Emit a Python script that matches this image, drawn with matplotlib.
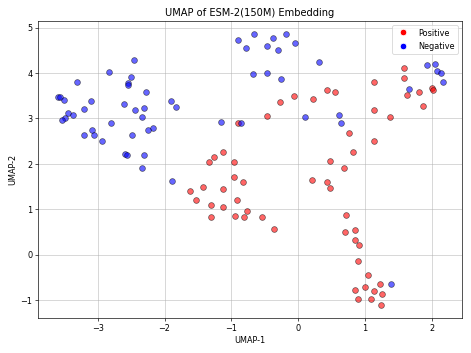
import numpy as np
import matplotlib
matplotlib.use("Agg")
import matplotlib.pyplot as plt
from matplotlib.lines import Line2D

# UMAP coordinates
pos_x = [-0.895, 0.437, -0.066, 0.223, -0.27, -0.46, -1.12, -1.26, -1.34, -0.955,
         0.477, 1.575, 1.575, 1.13, 0.548, 1.81, 2.00, 2.02, 1.62, 1.865,
         1.13, 1.365, 0.762, 1.126, 0.826, 0.683, -0.955, -0.825, -1.43, -1.62,
         -1.124, -1.53, -0.915, -1.304, -1.12, -0.77, -1.31, -0.945, -0.815, -0.545,
         -0.37, 0.213, 0.43, 0.478, 0.72, 0.70, 0.85, 0.85, 0.91, 0.90,
         1.05, 1.226, 1.00, 1.126, 1.26, 0.856, 0.90, 1.09, 1.236]
pos_y = [2.90, 3.62, 3.49, 3.44, 3.36, 3.06, 2.26, 2.14, 2.04, 2.03,
         2.06, 4.12, 3.89, 3.81, 3.59, 3.58, 3.68, 3.62, 3.51, 3.27,
         3.19, 3.03, 2.67, 2.51, 2.26, 1.90, 1.72, 1.61, 1.48, 1.40,
         1.45, 1.20, 1.20, 1.09, 1.04, 0.96, 0.83, 0.84, 0.82, 0.82,
         0.57, 1.65, 1.59, 1.47, 0.88, 0.49, 0.53, 0.32, 0.21, -0.15,
         -0.45, -0.65, -0.72, -0.81, -0.86, -0.78, -0.98, -0.99, -1.11]

neg_x = [-2.46, -2.83, -2.50, -2.55, -2.54, -3.31, -2.27, -3.60, -3.57, -3.51,
         -3.10, -2.60, -2.44, -2.31, -3.20, -1.90, -1.83, -3.45, -3.37, -3.49,
         -3.53, -2.34, -2.80, -3.09, -2.17, -2.24, -3.21, -3.06, -2.48, -2.94,
         -2.59, -2.56, -2.30, -2.34, -1.89,
         -0.895, -0.665, -0.376, -0.186, -0.046, -0.78, -0.466, -0.30, 0.317, -0.675,
         -0.466, -0.26, -1.154, -0.85, 0.099,
         1.92, 2.05, 2.07, 2.13, 2.17, 1.66, 0.612, 0.638, 1.39]
neg_y = [4.29, 4.03, 3.91, 3.78, 3.73, 3.80, 3.58, 3.47, 3.47, 3.41,
         3.39, 3.32, 3.19, 3.22, 3.21, 3.38, 3.26, 3.11, 3.08, 3.00,
         2.96, 3.03, 2.89, 2.74, 2.79, 2.75, 2.63, 2.63, 2.63, 2.51,
         2.22, 2.19, 2.20, 1.90, 1.62,
         4.74, 4.86, 4.77, 4.86, 4.66, 4.56, 4.59, 4.50, 4.24, 3.97,
         4.01, 3.88, 2.92, 2.90, 3.04,
         4.17, 4.20, 4.05, 4.00, 3.80, 3.64, 3.08, 2.90, -0.64]

fig, ax = plt.subplots(figsize=(8, 6), dpi=58.875)
fig.subplots_adjust(left=0.081, right=0.981, top=0.940, bottom=0.099)

ax.scatter(pos_x, pos_y, c="red", alpha=0.6, s=50, edgecolors="k", linewidths=0.8, zorder=3)
ax.scatter(neg_x, neg_y, c="blue", alpha=0.6, s=50, edgecolors="k", linewidths=0.8, zorder=3)

handles = [Line2D([0], [0], marker="o", color="w", markerfacecolor="red", markersize=8, label="Positive"),
           Line2D([0], [0], marker="o", color="w", markerfacecolor="blue", markersize=8, label="Negative")]
ax.legend(handles=handles, loc="upper right")

ax.set_xlim(-3.89, 2.45)
ax.set_ylim(-1.40, 5.15)
ax.set_title("UMAP of ESM-2(150M) Embedding")
ax.set_xlabel("UMAP-1")
ax.set_ylabel("UMAP-2")
ax.grid(True, alpha=0.75)

fig.savefig("out.png", dpi=58.875)
